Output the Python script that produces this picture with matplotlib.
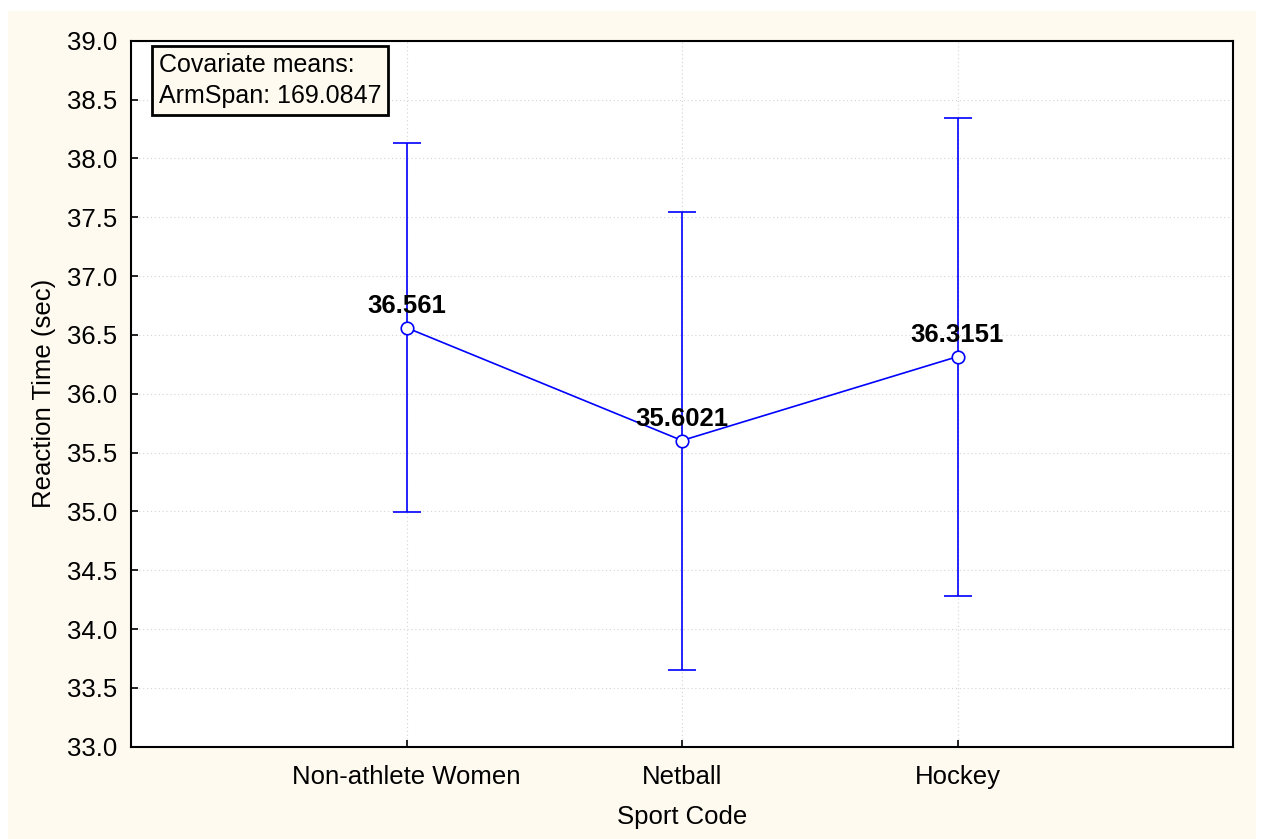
import matplotlib
matplotlib.use("Agg")
import matplotlib.pyplot as plt
from matplotlib.patches import Rectangle

# Adjusted means of reaction time by sport, with confidence limits
categories = ["Non-athlete Women", "Netball", "Hockey"]
means = [36.561, 35.6021, 36.3151]
lower = [34.995, 33.651, 34.28]
upper = [38.13, 37.546, 38.345]
mean_labels = ["36.561", "35.6021", "36.3151"]
yticks = [33.0, 33.5, 34.0, 34.5, 35.0, 35.5, 36.0, 36.5, 37.0, 37.5, 38.0, 38.5, 39.0]
covariate_text = "Covariate means:\nArmSpan: 169.0847"

plt.rcParams["font.family"] = ["Liberation Sans", "DejaVu Sans"]
FS = 18.5
BLUE = "#0000ff"
CREAM = "#fffaf0"

W, H = 1261, 839
fig = plt.figure(figsize=(W / 100, H / 100), dpi=100, facecolor="white")

# cream panel behind the plot
fig.add_artist(Rectangle((8 / W, 0), (1256 - 8) / W, 1 - 11 / H,
                         transform=fig.transFigure, facecolor=CREAM,
                         edgecolor="none", zorder=-10))

ax = fig.add_axes([131 / W, 1 - 746.7 / H, (1233 - 131) / W, (746.7 - 40.7) / H])
ax.set_zorder(1)
ax.set_facecolor("white")

x = list(range(len(categories)))
yerr = [[m - lo for m, lo in zip(means, lower)],
        [hi - m for m, hi in zip(means, upper)]]

ax.errorbar(x, means, yerr=yerr, color=BLUE, ecolor=BLUE, elinewidth=1.2,
            capsize=10, capthick=1.2, lw=1.2, marker="o", markersize=9,
            markerfacecolor="white", markeredgecolor=BLUE, markeredgewidth=1.2,
            zorder=3)

for xi, m, lab in zip(x, means, mean_labels):
    ax.annotate(lab, (xi, m), xytext=(0, 7), textcoords="offset points",
                ha="center", va="bottom", fontsize=FS, fontweight="bold",
                color="black", zorder=4)

ax.set_xlim(-1, 3)
ax.set_ylim(33.0, 39.0)
ax.set_xticks(x)
ax.set_xticklabels(categories, fontsize=FS)
ax.set_yticks(yticks)
ax.set_yticklabels([f"{t:.1f}" for t in yticks], fontsize=FS)

ax.tick_params(axis="both", direction="in", length=5, width=1.2, pad=10,
               colors="black")
ax.tick_params(axis="x", pad=13)

ax.grid(True, linestyle=(0, (1, 2.5)), color="#d4d4d4", linewidth=0.8, zorder=0)
ax.set_axisbelow(True)

for sp in ax.spines.values():
    sp.set_linewidth(1.5)
    sp.set_color("black")

ax.set_xlabel("Sport Code", fontsize=FS, labelpad=12)
ax.set_ylabel("Reaction Time (sec)", fontsize=FS, labelpad=8)

ax.text((159 - 131) / 1102, 1 - (53 - 40.7) / 706, covariate_text,
        transform=ax.transAxes, ha="left", va="top", fontsize=18,
        linespacing=1.37, zorder=5,
        bbox=dict(boxstyle="square,pad=0.27", facecolor=CREAM,
                  edgecolor="black", linewidth=2))

fig.savefig("out.png", dpi=100, facecolor="white")
